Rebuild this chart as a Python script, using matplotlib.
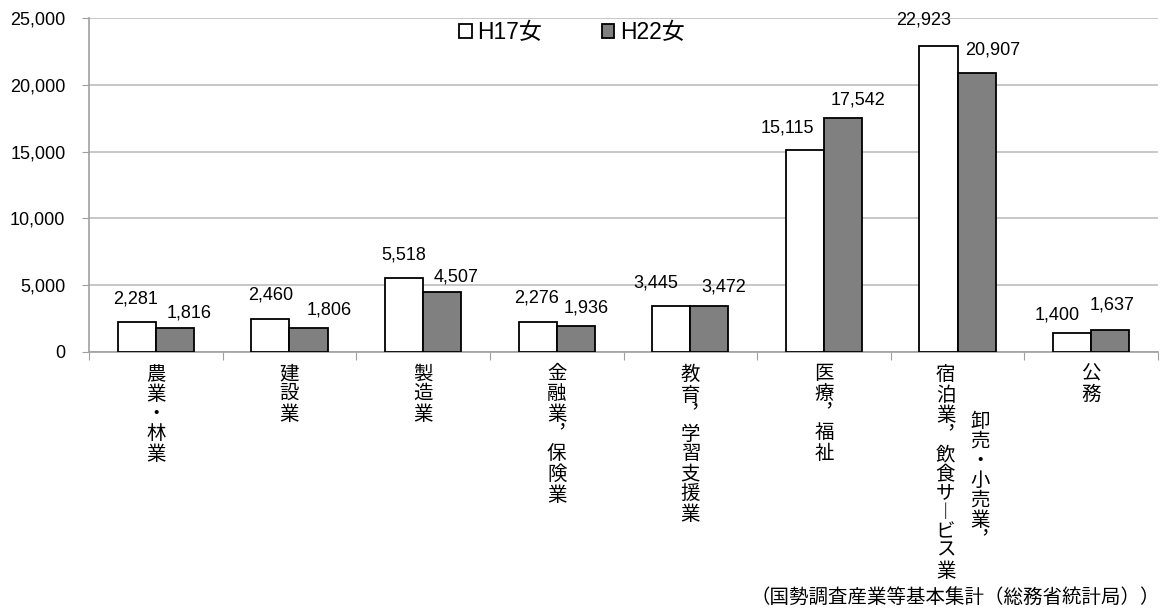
import numpy as np
import matplotlib.pyplot as plt
from matplotlib.transforms import blended_transform_factory

plt.rcParams['font.family'] = ['Liberation Sans', 'Noto Sans CJK JP', 'DejaVu Sans']

# data
categories = ['農業・林業', '建設業', '製造業', '金融業︐保険業', '教育︐学習支援業',
              '医療︐福祉', '卸売・小売業︐宿泊業︐飲食サービス業', '公務']
h17 = [2281, 2460, 5518, 2276, 3445, 15115, 22923, 1400]
h22 = [1816, 1806, 4507, 1936, 3472, 17542, 20907, 1637]

# label offsets in pixels (dx, dy) from top centre of each bar
off17 = [(-1, 23), (0, 24), (0, 23), (-1, 24), (-15, 23), (-18, 22), (-15, 26), (-15, 18)]
off22 = [(14, 15), (21, 18), (14, 15), (10, 18), (14, 19), (15, 18), (16, 23), (2, 25)]

fig = plt.figure(figsize=(11.63, 6.10), dpi=100)
ax = fig.add_axes([89/1163, 1 - 352/610, 1069/1163, 334/610])

x = np.arange(len(categories))
w = 0.285
ax.bar(x - w/2, h17, w, color='white', edgecolor='black', linewidth=1.3, label='H17女', zorder=3)
ax.bar(x + w/2, h22, w, color='#808080', edgecolor='black', linewidth=1.3, label='H22女', zorder=3)

fmt = lambda v: f'{v:,.0f}'
for i in range(len(categories)):
    ax.annotate(fmt(h17[i]), (x[i] - w/2, h17[i]), xytext=off17[i], textcoords='offset pixels',
                ha='center', va='center', fontsize=13)
    ax.annotate(fmt(h22[i]), (x[i] + w/2, h22[i]), xytext=off22[i], textcoords='offset pixels',
                ha='center', va='center', fontsize=13)

ax.set_xlim(-0.5, len(categories) - 0.5)
ax.set_ylim(0, 25000)
ax.set_yticks(range(0, 25001, 5000))
ax.set_yticklabels([fmt(v) for v in range(0, 25001, 5000)], fontsize=13)
ax.yaxis.grid(True, color='#BEBEBE', linewidth=1.2, zorder=0)
ax.tick_params(axis='y', length=5, color='#A0A0A0', pad=12)

ax.set_xticks(np.arange(len(categories) + 1) - 0.5)
ax.set_xticklabels([])
ax.tick_params(axis='x', length=6, color='#A0A0A0')

for s in ['top', 'right']:
    ax.spines[s].set_visible(False)
for s in ['left', 'bottom']:
    ax.spines[s].set_color('#A0A0A0')
    ax.spines[s].set_linewidth(1.2)

# vertical category labels
tr = blended_transform_factory(ax.transData, fig.transFigure)
lab = dict(ha='center', va='top', fontsize=14, linespacing=1.15, transform=tr)
for i, c in enumerate(categories):
    if i == 6:
        ax.text(i + 0.17, 1 - 413/610, '\n'.join('卸売・小売業︐'), **lab)
        ax.text(i - 0.09, 1 - 366/610, '\n'.join('宿泊業︐飲食サ︱ビス業'), **lab)
    else:
        ax.text(i, 1 - 366/610, '\n'.join(c), **lab)

fig.text(1160/1163, 1 - 597/610, '（国勢調査産業等基本集計（総務省統計局））',
         ha='right', va='center', fontsize=14)

ax.legend(loc='center', bbox_to_anchor=(572/1163, 1 - 33/610), bbox_transform=fig.transFigure,
          ncol=2, frameon=False, fontsize=16.5, handlelength=0.55, handleheight=0.55,
          handletextpad=0.25, columnspacing=2.6)

fig.savefig('out.png', dpi=100)
